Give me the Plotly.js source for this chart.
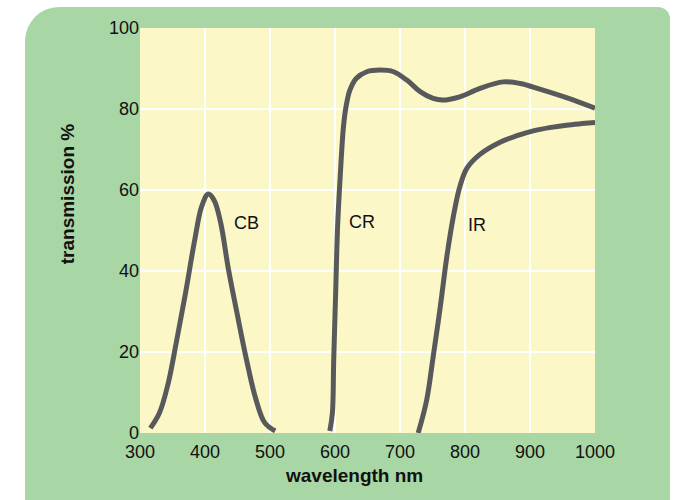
<!DOCTYPE html>
<html>
<head>
<meta charset="utf-8">
<script src="https://cdn.plot.ly/plotly-3.0.1.min.js"></script>
<style>
  html, body { margin: 0; padding: 0; background: #ffffff; }
  #wrap { position: relative; width: 674px; height: 500px; overflow: hidden; }
  #panel { position: absolute; left: 25px; top: 7px; width: 645px; height: 500px;
           background: #a9d6a5; border-radius: 34px 12px 0 0; }
  #chart { position: absolute; left: 0; top: 0; width: 674px; height: 500px; }
</style>
</head>
<body>
<div id="wrap">
  <div id="panel"></div>
  <div id="chart"></div>
</div>
<script>
// CB filter curve
const cbWavelength = [316, 330, 343, 356, 370, 384, 395, 405, 414, 424, 436, 450, 464, 478, 492, 508];
const cbTransmission = [1.2, 5, 12, 22.5, 34.5, 47.5, 56, 59, 57.5, 52, 40.5, 29, 18, 8.5, 2.5, 0.5];

// CR filter curve
const crWavelength = [592, 596, 598, 601, 604, 608, 613, 617, 623, 633, 649, 669, 690, 710, 731, 751, 765, 792, 823, 859, 885, 915, 956, 1000];
const crTransmission = [0.5, 4.9, 18, 34.5, 51, 63.3, 75.6, 80.6, 84.7, 87.6, 89.2, 89.6, 89.2, 87.2, 84.3, 82.6, 82.2, 83, 85.1, 86.7, 86.3, 84.9, 82.8, 80.2];

// IR filter curve
const irWavelength = [728, 741, 751, 762, 772, 782, 792, 803, 823, 854, 880, 905, 930, 956, 980, 1000];
const irTransmission = [0, 8.1, 18.8, 31.2, 43.5, 53.4, 60.8, 65.4, 68.8, 71.8, 73.4, 74.6, 75.4, 76, 76.4, 76.7];

// curve labels
const labelText = ["CB", "CR", "IR"];
const labelX = [464, 641, 819];
const labelY = [51.9, 52.2, 51.4];

const xTicks = [300, 400, 500, 600, 700, 800, 900, 1000];
const yTicks = [0, 20, 40, 60, 80, 100];

const FONT = "Liberation Sans, Arial, sans-serif";
const lineStyle = { color: "#58595b", width: 5, shape: "spline", smoothing: 1.0 };

const traces = [
  { x: cbWavelength, y: cbTransmission, name: "CB" },
  { x: crWavelength, y: crTransmission, name: "CR" },
  { x: irWavelength, y: irTransmission, name: "IR" }
].map(t => Object.assign(t, { type: "scatter", mode: "lines", line: lineStyle, hoverinfo: "x+y" }));

const annotations = labelText.map((t, i) => ({
  x: labelX[i], y: labelY[i], xref: "x", yref: "y", text: t, showarrow: false,
  font: { family: FONT, size: 18, color: "#111111" }
}));
annotations.push({
  xref: "paper", yref: "paper", x: 0.471, y: -0.104, text: "<b>wavelength nm</b>",
  showarrow: false, xanchor: "center", yanchor: "middle",
  font: { family: FONT, size: 19, color: "#111111" }
});
annotations.push({
  xref: "paper", yref: "paper", x: -0.160, y: 0.59, text: "<b>transmission %</b>",
  textangle: -90, showarrow: false, xanchor: "center", yanchor: "middle",
  font: { family: FONT, size: 19, color: "#111111" }
});

const layout = {
  width: 674, height: 500,
  margin: { l: 140, r: 79, t: 28, b: 67, pad: 0 },
  paper_bgcolor: "rgba(0,0,0,0)",
  plot_bgcolor: "#fbf7c6",
  showlegend: false,
  font: { family: FONT, size: 18, color: "#111111" },
  xaxis: {
    range: [300, 1000], tickvals: xTicks, ticktext: xTicks.map(String),
    showgrid: true, gridcolor: "#ffffff", gridwidth: 2,
    zeroline: false, showline: false, ticks: "", fixedrange: true,
    ticklabelstandoff: 6
  },
  yaxis: {
    range: [0, 100], tickvals: yTicks, ticktext: yTicks.map(String),
    showgrid: true, gridcolor: "#ffffff", gridwidth: 2,
    zeroline: false, showline: false, ticks: "", fixedrange: true
  },
  annotations: annotations
};

Plotly.newPlot("chart", traces, layout, { displayModeBar: false, staticPlot: true });
</script>
</body>
</html>
